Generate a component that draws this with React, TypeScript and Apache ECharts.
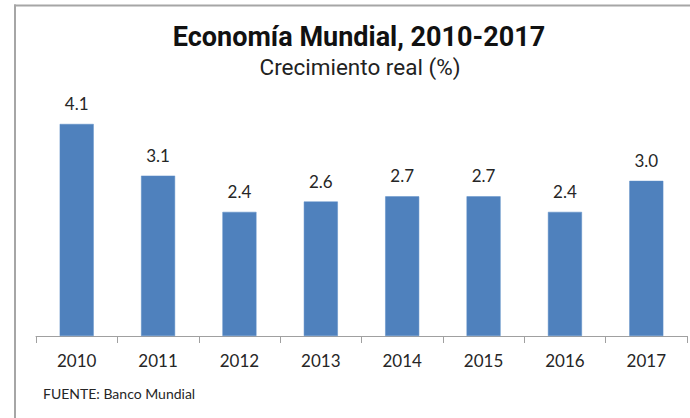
import React, { useEffect, useRef } from "react";
import * as echarts from "echarts";

const years = ["2010", "2011", "2012", "2013", "2014", "2015", "2016", "2017"];
const growth = [4.1, 3.1, 2.4, 2.6, 2.7, 2.7, 2.4, 3.0];
const titleText = "Economía Mundial, 2010-2017";
const subtitleText = "Crecimiento real (%)";
const sourceText = "FUENTE: Banco Mundial";

export default function App() {
  const ref = useRef<HTMLDivElement>(null);
  useEffect(() => {
    if (!ref.current) return;
    const chart = echarts.init(ref.current, null, { renderer: "svg" });
    chart.setOption({
      animation: false,
      backgroundColor: "#ffffff",
      grid: { left: 36, width: 651, top: 80, height: 256, containLabel: false },
      xAxis: {
        type: "category",
        data: years,
        axisLine: { lineStyle: { color: "#a0a0a0", width: 1 } },
        axisTick: { show: true, length: 7, lineStyle: { color: "#a0a0a0" } },
        axisLabel: {
          margin: 16,
          fontFamily: "Lato",
          fontSize: 17,
          color: "#262626",
        },
      },
      yAxis: {
        type: "value",
        min: 0,
        max: 4.95,
        show: false,
        splitLine: { show: false },
      },
      series: [
        {
          type: "bar",
          data: growth,
          barWidth: 34,
          itemStyle: { color: "#4f81bd", borderColor: "#5b8cc6", borderWidth: 0.5 },
          label: {
            show: true,
            position: "top",
            distance: 12,
            fontFamily: "Lato",
            fontSize: 17,
            color: "#262626",
            formatter: (p: any) => Number(p.value).toFixed(1),
          },
        },
      ],
      graphic: [
        {
          type: "line",
          shape: { x1: 14, y1: 5.5, x2: 690, y2: 5.5 },
          style: { stroke: "#a6a6a6", lineWidth: 2 },
        },
        {
          type: "line",
          shape: { x1: 15, y1: 4.5, x2: 15, y2: 418 },
          style: { stroke: "#a6a6a6", lineWidth: 2 },
        },
        {
          type: "text",
          x: 359,
          y: 37,
          style: {
            text: titleText,
            fontFamily: "Roboto",
            fontWeight: "bold",
            fontSize: 27,
            fill: "#111111",
            textAlign: "center",
            textVerticalAlign: "middle",
          },
        },
        {
          type: "text",
          x: 360,
          y: 67,
          style: {
            text: subtitleText,
            fontFamily: "Roboto",
            fontSize: 22.5,
            fill: "#222222",
            textAlign: "center",
            textVerticalAlign: "middle",
          },
        },
        {
          type: "text",
          x: 43,
          y: 393,
          style: {
            text: sourceText,
            fontFamily: "Lato",
            fontSize: 14,
            fill: "#262626",
            textAlign: "left",
            textVerticalAlign: "middle",
          },
        },
      ],
    });
    return () => chart.dispose();
  }, []);
  return <div ref={ref} style={{ width: 690, height: 418, position: "absolute", left: 0, top: 0 }} />;
}
